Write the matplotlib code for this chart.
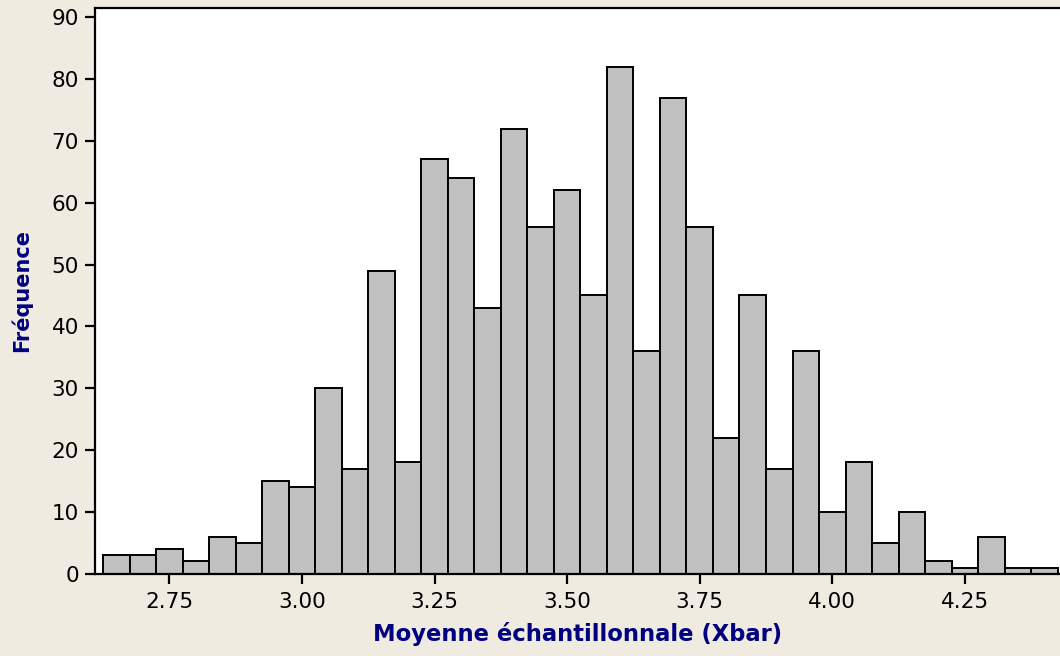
import numpy as np
import matplotlib
matplotlib.use('Agg')
import matplotlib.pyplot as plt

# Histogramme des moyennes échantillonnales
bin_first_center = 2.65
bin_width = 0.05
counts = [3, 3, 4, 2, 6, 5, 15, 14, 30, 17, 49, 18, 67, 64, 43, 72, 56, 62,
          45, 82, 36, 77, 56, 22, 45, 17, 36, 10, 18, 5, 10, 2, 1, 6, 1, 1]
x_ticks = [2.75, 3.00, 3.25, 3.50, 3.75, 4.00, 4.25]
y_ticks = [0, 10, 20, 30, 40, 50, 60, 70, 80, 90]

centers = bin_first_center + bin_width * np.arange(len(counts))

bg = '#EFEBE1'
navy = '#000080'

fig = plt.figure(figsize=(10.6, 6.56), dpi=100, facecolor=bg)
ax = fig.add_axes([95 / 1060, (656 - 573.7) / 656, 1 - 95 / 1060, (573.7 - 8) / 656])
ax.set_facecolor('white')

ax.bar(centers, counts, width=bin_width, color='#C0C0C0', edgecolor='black', linewidth=1.4)

ax.set_xlim(2.6097, 4.4294)
ax.set_ylim(0, 91.5)
ax.set_xticks(x_ticks)
ax.set_xticklabels([f'{t:.2f}' for t in x_ticks])
ax.set_yticks(y_ticks)

ax.tick_params(axis='both', direction='out', length=7.5, width=1.6, labelsize=15.5,
               colors='black', pad=4)
ax.tick_params(axis='x', pad=6)
for side in ['left', 'bottom', 'top']:
    ax.spines[side].set_linewidth(1.6)
ax.spines['right'].set_visible(False)

ax.set_xlabel('Moyenne échantillonnale (Xbar)', fontsize=16.3, fontweight='bold',
              color=navy, labelpad=7)
ax.set_ylabel('Fréquence', fontsize=15, fontweight='bold', color=navy, labelpad=14)

fig.savefig('out.png', dpi=100, facecolor=bg)
